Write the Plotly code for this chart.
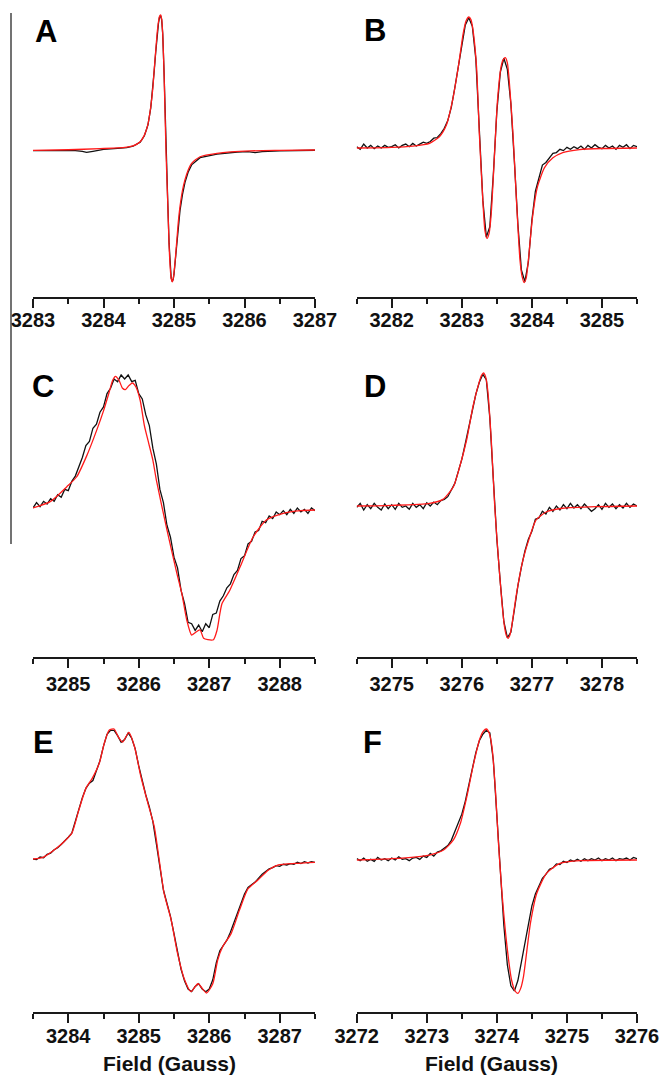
import plotly.graph_objects as go

# ---------------- DATA ----------------
# Panel A (fit = red, exp = black)
fieldA_fit = [3283.00, 3283.50, 3283.95, 3284.20, 3284.33, 3284.42, 3284.52, 3284.58, 3284.63, 3284.67,
              3284.70, 3284.72, 3284.74, 3284.76, 3284.78, 3284.795, 3284.81, 3284.825, 3284.84, 3284.86,
              3284.886, 3284.91, 3284.93, 3284.945, 3284.96, 3284.976, 3284.99, 3285.00, 3285.02, 3285.04,
              3285.06, 3285.085, 3285.12, 3285.156, 3285.20, 3285.25, 3285.37, 3285.61, 3286.08, 3286.50,
              3287.00]
ampA_fit = [-0.003, 0.002, 0.010, 0.015, 0.021, 0.030, 0.061, 0.11, 0.19, 0.32,
            0.46, 0.60, 0.73, 0.86, 0.95, 0.99, 1.0, 0.97, 0.86, 0.55,
            0.0, -0.37, -0.70, -0.86, -0.95, -0.976, -0.95, -0.91, -0.80, -0.67,
            -0.54, -0.42, -0.30, -0.22, -0.15, -0.099, -0.05, -0.025, -0.007, -0.003,
            0.0]
fieldA_exp = [3283.00, 3283.30, 3283.60, 3283.70, 3283.76, 3283.85, 3284.00, 3284.20, 3284.33, 3284.42,
              3284.52, 3284.58, 3284.63, 3284.67, 3284.70, 3284.72, 3284.74, 3284.76, 3284.78, 3284.795,
              3284.81, 3284.825, 3284.84, 3284.86, 3284.886, 3284.91, 3284.93, 3284.945, 3284.96, 3284.976,
              3284.99, 3285.00, 3285.02, 3285.04, 3285.06, 3285.085, 3285.12, 3285.156, 3285.20, 3285.25,
              3285.37, 3285.61, 3285.90, 3286.05, 3286.15, 3286.25, 3286.50, 3287.00]
ampA_exp = [-0.004, -0.003, -0.004, -0.010, -0.018, -0.010, 0.004, 0.012, 0.018, 0.028,
            0.058, 0.105, 0.185, 0.31, 0.45, 0.59, 0.72, 0.85, 0.94, 0.985,
            0.995, 0.965, 0.86, 0.56, 0.01, -0.36, -0.69, -0.86, -0.95, -0.975,
            -0.955, -0.92, -0.82, -0.70, -0.57, -0.45, -0.33, -0.24, -0.165, -0.11,
            -0.057, -0.03, -0.015, -0.012, -0.020, -0.012, -0.006, -0.002]

# Panel B
fieldB_fit = [3281.50, 3282.00, 3282.30, 3282.54, 3282.68, 3282.78, 3282.87, 3282.95, 3283.02, 3283.06,
              3283.10, 3283.13, 3283.16, 3283.21, 3283.25, 3283.30, 3283.33, 3283.36, 3283.39, 3283.42,
              3283.47, 3283.51, 3283.56, 3283.59, 3283.62, 3283.65, 3283.68, 3283.73, 3283.78, 3283.83,
              3283.86, 3283.89, 3283.92, 3283.95, 3284.01, 3284.08, 3284.18, 3284.30, 3284.44, 3284.68,
              3285.00, 3285.50]
ampB_fit = [0.000, 0.005, 0.015, 0.036, 0.086, 0.176, 0.37, 0.62, 0.875, 0.97,
            1.00, 0.98, 0.90, 0.62, 0.11, -0.40, -0.63, -0.69, -0.65, -0.50,
            -0.015, 0.37, 0.62, 0.675, 0.69, 0.65, 0.49, 0.11, -0.40, -0.855,
            -0.98, -1.028, -0.99, -0.855, -0.524, -0.295, -0.15, -0.075, -0.035, -0.012,
            -0.004, 0.000]
ampB_exp = [0.01, -0.01, 0.03, 0.00, 0.02, -0.005, 0.015, 0.00, 0.02, 0.005,
            0.01, 0.025, 0.00, 0.02, 0.03, 0.01, 0.035, 0.015, 0.03, 0.045,
            0.035, 0.05, 0.075, 0.08, 0.11, 0.15, 0.21, 0.31, 0.46, 0.62,
            0.81, 0.94, 0.995, 0.93, 0.68, 0.12, -0.40, -0.68, -0.60, -0.20,
            0.28, 0.58, 0.685, 0.60, 0.34, -0.10, -0.58, -0.93, -1.02, -0.87,
            -0.55, -0.33, -0.22, -0.13, -0.11, -0.07, -0.04, -0.035, -0.01, -0.02,
            0.005, -0.01, 0.01, -0.005, 0.015, -0.01, 0.02, 0.00, 0.025, 0.005,
            -0.005, 0.02, 0.00, 0.015, -0.01, 0.02, 0.005, 0.025, -0.005, 0.02,
            0.01]

# Panel C
fieldC_fit = [3284.50, 3284.75, 3284.98, 3285.12, 3285.26, 3285.40, 3285.50, 3285.58, 3285.63, 3285.67,
              3285.72, 3285.77, 3285.81, 3285.86, 3285.91, 3285.96, 3286.02, 3286.08, 3286.14, 3286.20,
              3286.25, 3286.40, 3286.54, 3286.61, 3286.68, 3286.75, 3286.82, 3286.87, 3286.92, 3286.98,
              3287.06, 3287.11, 3287.18, 3287.29, 3287.44, 3287.62, 3287.81, 3288.05, 3288.30, 3288.50]
ampC_fit = [0.00, 0.05, 0.16, 0.235, 0.39, 0.58, 0.73, 0.87, 0.96, 0.99,
            0.96, 0.90, 0.89, 0.92, 0.94, 0.91, 0.81, 0.62, 0.49, 0.36,
            0.21, -0.165, -0.49, -0.64, -0.84, -0.955, -0.93, -0.917, -0.98, -0.99,
            -0.99, -0.92, -0.72, -0.62, -0.44, -0.22, -0.09, -0.04, -0.02, -0.015]
ampC_exp = [0.00, 0.04, 0.01, 0.05, 0.03, 0.07, 0.05, 0.10, 0.08, 0.14,
            0.13, 0.20, 0.24, 0.31, 0.38, 0.47, 0.50, 0.60, 0.63, 0.72,
            0.76, 0.86, 0.90, 0.97, 0.95, 1.00, 0.97, 1.00, 0.95, 0.96,
            0.86, 0.82, 0.70, 0.62, 0.45, 0.33, 0.14, 0.04, -0.13, -0.22,
            -0.37, -0.45, -0.62, -0.72, -0.86, -0.87, -0.92, -0.88, -0.93, -0.87,
            -0.90, -0.80, -0.79, -0.70, -0.66, -0.60, -0.57, -0.50, -0.47, -0.38,
            -0.36, -0.27, -0.25, -0.18, -0.17, -0.10, -0.11, -0.06, -0.08, -0.03,
            -0.05, -0.02, -0.05, -0.01, -0.04, 0.00, -0.03, -0.01, -0.04, 0.00,
            -0.02]

# Panel D
fieldD_fit = [3274.50, 3275.00, 3275.54, 3275.73, 3275.88, 3275.97, 3276.07, 3276.16, 3276.25, 3276.28,
              3276.31, 3276.34, 3276.37, 3276.42, 3276.47, 3276.52, 3276.57, 3276.61, 3276.64, 3276.66,
              3276.68, 3276.71, 3276.78, 3276.87, 3276.97, 3277.06, 3277.21, 3277.44, 3277.92, 3278.50]
ampD_fit = [0.00, 0.005, 0.02, 0.05, 0.145, 0.295, 0.50, 0.75, 0.935, 0.98,
            1.0, 0.97, 0.87, 0.50, -0.005, -0.38, -0.71, -0.91, -0.98, -0.995,
            -0.98, -0.91, -0.66, -0.41, -0.23, -0.105, -0.043, -0.017, -0.005, 0.00]
ampD_exp = [-0.01, 0.02, -0.03, 0.01, -0.02, 0.02, -0.01, -0.03, 0.015, -0.02,
            0.01, -0.025, 0.02, -0.01, 0.00, -0.025, 0.02, -0.01, 0.01, -0.02,
            0.025, 0.00, 0.03, 0.01, 0.04, 0.05, 0.07, 0.12, 0.17, 0.26,
            0.35, 0.47, 0.60, 0.72, 0.84, 0.93, 0.99, 0.95, 0.66, 0.20,
            -0.25, -0.58, -0.87, -0.99, -0.95, -0.78, -0.60, -0.46, -0.34, -0.25,
            -0.19, -0.10, -0.09, -0.04, -0.06, -0.01, -0.04, 0.00, -0.03, 0.01,
            -0.02, 0.02, -0.015, 0.01, -0.02, 0.015, -0.01, -0.04, -0.02, 0.01,
            -0.025, 0.02, -0.01, 0.015, -0.02, 0.01, -0.015, 0.02, -0.01, 0.015,
            0.00]

# Panel E
fieldE_fit = [3283.50, 3283.65, 3283.80, 3283.94, 3284.05, 3284.15, 3284.25, 3284.34, 3284.44, 3284.51,
              3284.58, 3284.65, 3284.71, 3284.77, 3284.86, 3284.94, 3285.03, 3285.13, 3285.22, 3285.29,
              3285.36, 3285.46, 3285.55, 3285.65, 3285.74, 3285.84, 3285.96, 3286.05, 3286.12, 3286.19,
              3286.31, 3286.43, 3286.55, 3286.69, 3286.84, 3286.98, 3287.22, 3287.50]
ampE_fit = [0.015, 0.03, 0.083, 0.146, 0.21, 0.386, 0.55, 0.626, 0.74, 0.89,
            0.99, 1.0, 0.94, 0.90, 0.975, 0.866, 0.64, 0.437, 0.26, 0.008,
            -0.245, -0.447, -0.70, -0.90, -0.99, -0.93, -1.0, -0.93, -0.75, -0.65,
            -0.55, -0.37, -0.21, -0.144, -0.068, -0.03, -0.018, -0.01]
ampE_exp = [0.015, 0.01, 0.03, 0.025, 0.05, 0.06, 0.085, 0.10, 0.125, 0.15,
            0.18, 0.21, 0.30, 0.39, 0.48, 0.55, 0.59, 0.61, 0.69, 0.76,
            0.87, 0.96, 0.99, 0.99, 0.95, 0.90, 0.92, 0.97, 0.93, 0.85,
            0.72, 0.60, 0.50, 0.41, 0.30, 0.13, -0.04, -0.22, -0.32, -0.42,
            -0.55, -0.70, -0.82, -0.91, -0.97, -0.99, -0.95, -0.93, -0.97, -0.99,
            -0.97, -0.90, -0.77, -0.68, -0.64, -0.60, -0.54, -0.47, -0.39, -0.33,
            -0.25, -0.20, -0.18, -0.16, -0.13, -0.10, -0.08, -0.06, -0.05, -0.035,
            -0.04, -0.025, -0.03, -0.02, -0.025, -0.01, -0.02, -0.005, -0.015, -0.005,
            -0.01]

# Panel F
fieldF_fit = [3272.00, 3272.50, 3273.05, 3273.24, 3273.38, 3273.48, 3273.57, 3273.67, 3273.76, 3273.81,
              3273.85, 3273.89, 3273.93, 3273.98, 3274.02, 3274.07, 3274.14, 3274.21, 3274.26, 3274.30,
              3274.34, 3274.38, 3274.48, 3274.57, 3274.71, 3274.90, 3275.19, 3276.00]
ampF_fit = [0.00, 0.01, 0.04, 0.076, 0.153, 0.28, 0.48, 0.74, 0.93, 0.985,
            1.0, 0.97, 0.865, 0.53, 0.153, -0.23, -0.636, -0.916, -1.00, -1.018,
            -0.98, -0.89, -0.48, -0.254, -0.10, -0.025, -0.005, 0.00]
ampF_exp = [0.01, -0.005, 0.015, -0.01, 0.005, -0.01, 0.02, 0.00, 0.01, -0.005,
            0.015, 0.00, 0.025, 0.005, 0.01, -0.005, 0.015, 0.02, 0.005, 0.03,
            0.02, 0.05, 0.03, 0.06, 0.07, 0.09, 0.11, 0.15, 0.22, 0.29,
            0.35, 0.45, 0.57, 0.70, 0.82, 0.91, 0.96, 0.99, 0.97, 0.76,
            0.33, -0.12, -0.50, -0.80, -0.96, -1.00, -0.92, -0.78, -0.64, -0.47,
            -0.35, -0.26, -0.20, -0.14, -0.11, -0.07, -0.06, -0.03, -0.035, -0.01,
            -0.02, 0.00, -0.01, 0.005, -0.01, 0.01, -0.005, 0.01, 0.00, 0.015,
            -0.005, 0.01, 0.00, 0.015, -0.005, 0.01, 0.005, 0.015, 0.00, 0.02,
            0.01]

# Axis ranges (field, Gauss), tick values and panel labels
rangesX = {"A": [3283, 3287], "B": [3281.5, 3285.5], "C": [3284.5, 3288.5],
           "D": [3274.5, 3278.5], "E": [3283.5, 3287.5], "F": [3272, 3276]}
ticksA = [3283, 3284, 3285, 3286, 3287]
ticksB = [3282, 3283, 3284, 3285]
ticksC = [3285, 3286, 3287, 3288]
ticksD = [3275, 3276, 3277, 3278]
ticksE = [3284, 3285, 3286, 3287]
ticksF = [3272, 3273, 3274, 3275, 3276]
panel_labels = ["A", "B", "C", "D", "E", "F"]
x_title = "Field (Gauss)"
EXP_STEP = 0.05

# ---------------- LAYOUT GEOMETRY (pixels) ----------------
W, H = 662, 1076
col_px = {"L": (33, 315), "R": (356.7, 637)}
row_px = {1: (296.7, 5), 2: (656.7, 360), 3: (1011.7, 715)}  # (bottom, top)
# baseline / peak pixel position of each spectrum
base_peak = {"A": (150, 15), "B": (148, 17), "C": (508, 375),
             "D": (506, 373), "E": (861, 729), "F": (860, 729)}
panel_pos = {"A": ("L", 1), "B": ("R", 1), "C": ("L", 2),
             "D": ("R", 2), "E": ("L", 3), "F": ("R", 3)}
label_standoff = {1: -5, 2: -1, 3: -4}
letter_px = {"A": (46, 31), "B": (375, 30), "C": (43, 387),
             "D": (375, 387), "E": (43, 742), "F": (372, 742)}

FONT = "Liberation Sans, Arial, Helvetica, sans-serif"
AXC = "#1a1a1a"

series = {
    "A": (fieldA_fit, ampA_fit, fieldA_exp, ampA_exp, ticksA),
    "B": (fieldB_fit, ampB_fit, None, ampB_exp, ticksB),
    "C": (fieldC_fit, ampC_fit, None, ampC_exp, ticksC),
    "D": (fieldD_fit, ampD_fit, None, ampD_exp, ticksD),
    "E": (fieldE_fit, ampE_fit, None, ampE_exp, ticksE),
    "F": (fieldF_fit, ampF_fit, None, ampF_exp, ticksF),
}

fig = go.Figure()
layout = dict(width=W, height=H, margin=dict(l=0, r=0, t=0, b=0, autoexpand=False),
              paper_bgcolor="white", plot_bgcolor="white", showlegend=False)
annotations = []

for i, p in enumerate(panel_labels):
    n = "" if i == 0 else str(i + 1)
    fx, fy, ex, ey, ticks = series[p]
    x0, x1 = rangesX[p]
    if ex is None:
        ex = [round(x0 + EXP_STEP * k, 3) for k in range(len(ey))]
    col, row = panel_pos[p]
    cl, cr = col_px[col]
    bot, top = row_px[row]
    base, peak = base_peak[p]
    scale = base - peak
    yr = [-(bot - base) / scale, (base - top) / scale]

    fig.add_trace(go.Scatter(x=ex, y=ey, mode="lines", xaxis="x" + n, yaxis="y" + n,
                             line=dict(color="#111111", width=1.3), hoverinfo="skip"))
    fig.add_trace(go.Scatter(x=fx, y=fy, mode="lines", xaxis="x" + n, yaxis="y" + n,
                             line=dict(color="#ff1a1a", width=1.3, shape="spline", smoothing=0.6),
                             hoverinfo="skip"))

    minor_vals = [t + 0.5 for t in range(int(x0) - 1, int(x1) + 1) if x0 - 1e-6 <= t + 0.5 <= x1 + 1e-6]
    layout["xaxis" + n] = dict(
        domain=[cl / W, cr / W], range=[x0, x1], anchor="y" + n, automargin=False,
        showline=True, linecolor=AXC, linewidth=2, mirror=False,
        ticks="outside", ticklen=9, tickwidth=2, tickcolor=AXC,
        tickmode="array", tickvals=ticks, ticktext=[str(t) for t in ticks],
        tickfont=dict(family=FONT, size=20, color="#111111", weight="bold"),
        ticklabelstandoff=label_standoff[row],
        minor=dict(ticks="outside", ticklen=5, tickwidth=2, tickcolor=AXC,
                   tickmode="array", tickvals=minor_vals, showgrid=False),
        showgrid=False, zeroline=False, fixedrange=True,
    )
    layout["yaxis" + n] = dict(
        domain=[1 - bot / H, 1 - top / H], range=yr, anchor="x" + n,
        visible=False, fixedrange=True, automargin=False,
    )
    lx, ly = letter_px[p]
    annotations.append(dict(text="<b>%s</b>" % p, x=lx / W, y=1 - ly / H, xref="paper", yref="paper",
                            xanchor="center", yanchor="middle", showarrow=False,
                            font=dict(family=FONT, size=31, color="black")))
    if row == 3:
        annotations.append(dict(text="<b>%s</b>" % x_title, x=((cl + cr) / 2 - 5) / W, y=1 - 1063 / H,
                                xref="paper", yref="paper", xanchor="center", yanchor="middle",
                                showarrow=False, font=dict(family=FONT, size=21, color="#111111")))

layout["annotations"] = annotations
layout["shapes"] = [dict(type="line", xref="paper", yref="paper", x0=11 / W, x1=11 / W,
                         y0=1 - 13 / H, y1=1 - 544 / H, line=dict(color="#444444", width=1.5))]
fig.update_layout(**layout)
fig.write_html("out.html", config={"displayModeBar": False},
               post_script="document.body.style.margin='0px';document.body.style.overflow='hidden';")
